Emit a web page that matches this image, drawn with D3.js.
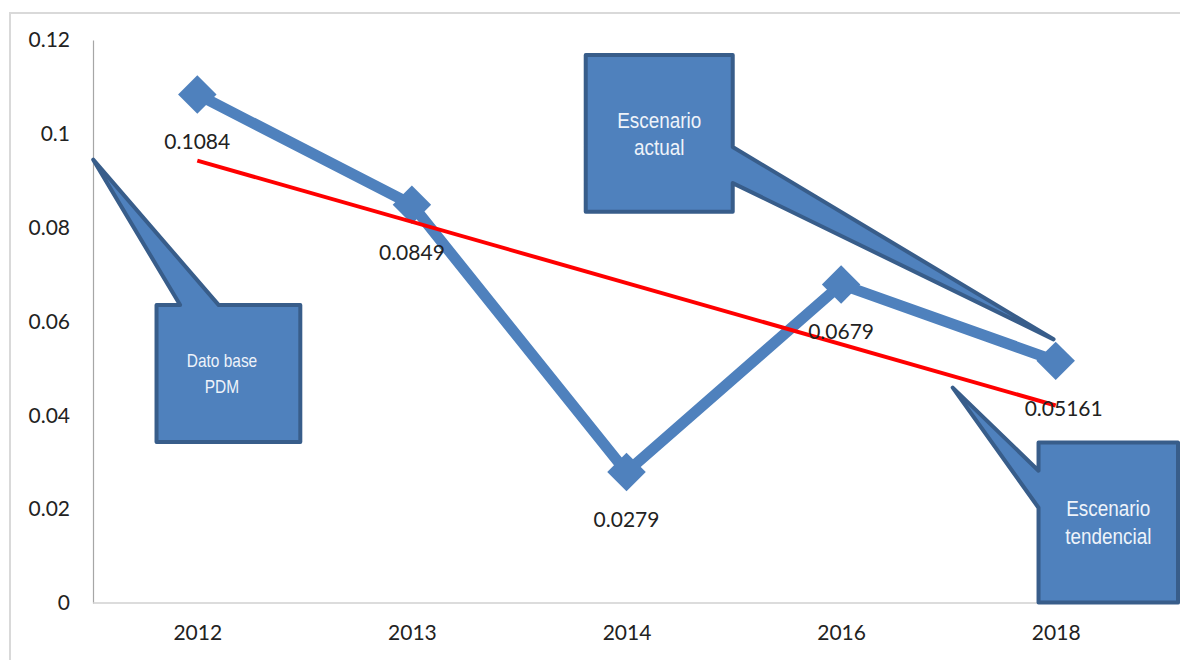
<!DOCTYPE html>
<html>
<head>
<meta charset="utf-8">
<script src="https://cdn.jsdelivr.net/npm/d3@7"></script>
<style>
  body { margin: 0; background: #fff; }
  .tick-label { font-family: Lato, "Open Sans", sans-serif; font-size: 21px; fill: #222; }
  .value-label { font-family: Lato, "Open Sans", sans-serif; font-size: 21px; fill: #222; }
  .callout-text { font-family: "Liberation Sans Narrow", "Liberation Sans", Arial, sans-serif; fill: #eef3fa; }
</style>
</head>
<body>
<div id="container"></div>
<script>
// data
const years = ["2012", "2013", "2014", "2016", "2018"];
const values = [0.1084, 0.0849, 0.0279, 0.0679, 0.05161];
const valueLabels = ["0.1084", "0.0849", "0.0279", "0.0679", "0.05161"];
const trendYears = ["2012", "2018"];
const trendValues = [0.0943, 0.0421];
const yTicks = [0, 0.02, 0.04, 0.06, 0.08, 0.1, 0.12];

// callouts: box in (category step offset, value) units, tip in data units
const callouts = [
  { lines: ["Dato base", "PDM"], size: 18, gap: 26, textOff: -0.03,
    box: { x0: -0.19, x1: 0.48, y0: 0.0635, y1: 0.0343 },
    side: "top", w0: -0.08, w1: 0.1, tip: { cat: -0.485, v: 0.0945 }, cat: "2012" },
  { lines: ["Escenario", "actual"], size: 22, gap: 27, textOff: 0,
    box: { x0: -0.19, x1: 0.495, y0: 0.1168, y1: 0.0834 },
    side: "right", w0: 0.0972, w1: 0.0895, tip: { cat: 1.99, v: 0.0562 }, cat: "2014" },
  { lines: ["Escenario", "tendencial"], size: 22, gap: 28, textOff: 0,
    box: { x0: -0.08, x1: 0.57, y0: 0.0342, y1: 0.0001 },
    side: "left", w0: 0.0282, w1: 0.0203, tip: { cat: -0.48, v: 0.0459 }, cat: "2018" }
];

const width = 1180;
const height = 660;
const margin = { top: 40, right: 17, bottom: 57, left: 90 };

const svg = d3.select("#container").append("svg")
  .attr("width", width)
  .attr("height", height);

// chart frame
svg.append("rect")
  .attr("x", 10).attr("y", 13)
  .attr("width", width + 20).attr("height", height + 20)
  .attr("fill", "none")
  .attr("stroke", "#d9d9d9")
  .attr("stroke-width", 2);

const x = d3.scalePoint()
  .domain(years)
  .range([margin.left, width - margin.right])
  .padding(0.5);

const y = d3.scaleLinear()
  .domain([0, 0.12])
  .range([height - margin.bottom, margin.top]);

const step = x.step();
const catX = (cat, off) => x(cat) + off * step;

// axes
const yAxis = d3.axisLeft(y).tickValues(yTicks).tickSize(0).tickPadding(23)
  .tickFormat(d => d3.format("")(+d.toFixed(2)));
svg.append("g")
  .attr("transform", `translate(${margin.left + 3},0)`)
  .call(yAxis)
  .call(g => g.select(".domain").attr("stroke", "#a6a6a6").attr("stroke-width", 1.2))
  .call(g => g.selectAll("text").attr("class", "tick-label").attr("text-anchor", "end"));

const xAxis = d3.axisBottom(x).tickSize(0).tickPadding(22).tickSizeOuter(0);
svg.append("g")
  .attr("transform", `translate(0,${y(0)})`)
  .call(xAxis)
  .call(g => g.select(".domain")
    .attr("d", `M${margin.left + 3},0H${width - 20}`)
    .attr("stroke", "#d0d0d0").attr("stroke-width", 1.5))
  .call(g => g.selectAll("text").attr("class", "tick-label"));

// main series
const data = years.map((yr, i) => ({ year: yr, value: values[i], label: valueLabels[i] }));

svg.append("path")
  .datum(data)
  .attr("fill", "none")
  .attr("stroke", "#4f81bd")
  .attr("stroke-width", 11)
  .attr("stroke-linejoin", "miter")
  .attr("d", d3.line().x(d => x(d.year)).y(d => y(d.value)));

svg.append("g").selectAll("path")
  .data(data)
  .join("path")
  .attr("transform", d => `translate(${x(d.year)},${y(d.value)}) rotate(45)`)
  .attr("d", d3.symbol(d3.symbolSquare, 740))
  .attr("fill", "#4f81bd");

// trend line
const trend = trendYears.map((yr, i) => ({ year: yr, value: trendValues[i] }));
svg.append("path")
  .datum(trend)
  .attr("fill", "none")
  .attr("stroke", "#ff0000")
  .attr("stroke-width", 4)
  .attr("d", d3.line().x(d => x(d.year)).y(d => y(d.value)));

// callouts
callouts.forEach(c => {
  const bx0 = catX(c.cat, c.box.x0), bx1 = catX(c.cat, c.box.x1);
  const by0 = y(c.box.y0), by1 = y(c.box.y1);
  const tx = catX(c.cat, c.tip.cat), ty = y(c.tip.v);
  let pts;
  if (c.side === "top") {
    const w0 = catX(c.cat, c.w0), w1 = catX(c.cat, c.w1);
    pts = [[bx0, by0], [w0, by0], [tx, ty], [w1, by0], [bx1, by0], [bx1, by1], [bx0, by1]];
  } else if (c.side === "right") {
    const w0 = y(c.w0), w1 = y(c.w1);
    pts = [[bx0, by0], [bx1, by0], [bx1, w0], [tx, ty], [bx1, w1], [bx1, by1], [bx0, by1]];
  } else {
    const w0 = y(c.w0), w1 = y(c.w1);
    pts = [[bx0, by0], [bx1, by0], [bx1, by1], [bx0, by1], [bx0, w1], [tx, ty], [bx0, w0]];
  }
  svg.append("path")
    .attr("d", "M" + pts.join("L") + "Z")
    .attr("fill", "#4f81bd")
    .attr("stroke", "#385d8a")
    .attr("stroke-width", 4)
    .attr("stroke-linejoin", "round");

  const cx = (bx0 + bx1) / 2 + c.textOff * step, cy = (by0 + by1) / 2;
  svg.append("text")
    .attr("class", "callout-text")
    .attr("font-size", c.size)
    .attr("text-anchor", "middle")
    .attr("transform", `translate(${cx},${cy}) scale(0.86,1)`)
    .selectAll("tspan")
    .data(c.lines)
    .join("tspan")
    .attr("x", 0)
    .attr("y", (d, i) => (i - (c.lines.length - 1) / 2) * c.gap)
    .attr("dy", "0.35em")
    .text(d => d);
});

// value labels
svg.append("g").selectAll("text")
  .data(data)
  .join("text")
  .attr("class", "value-label")
  .attr("text-anchor", "middle")
  .attr("x", (d, i) => x(d.year) + (i === 4 ? 8 : 0))
  .attr("y", d => y(d.value) + 55)
  .text(d => d.label);
</script>
</body>
</html>
